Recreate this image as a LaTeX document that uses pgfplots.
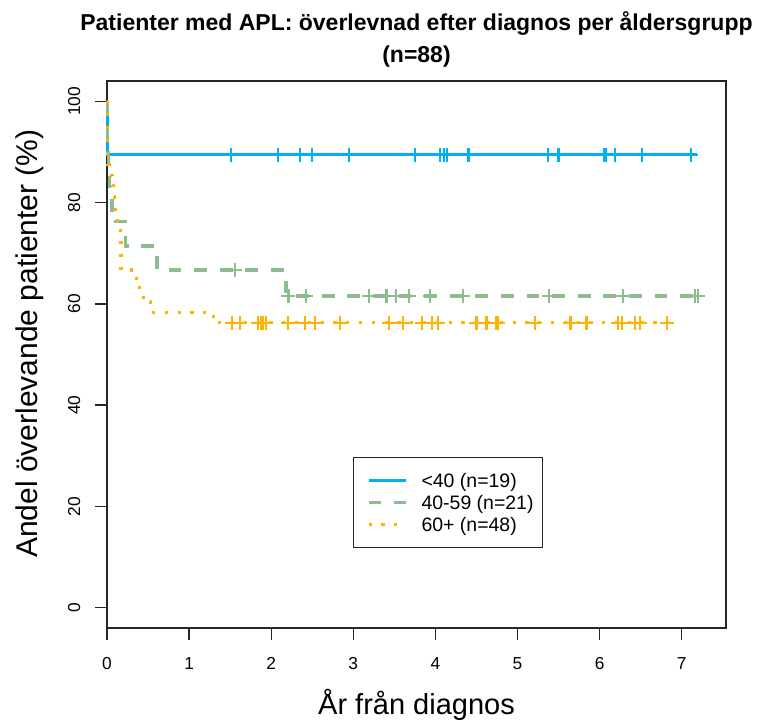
\documentclass[border=0pt]{standalone}
\usepackage{fontspec}
\setmainfont{Liberation Sans}
\usepackage{pgfplots}
\pgfplotsset{compat=1.18}
\definecolor{cblue}{HTML}{00B0F0}
\definecolor{cgreen}{HTML}{8FBC8F}
\definecolor{corange}{HTML}{FFB300}
\begin{document}
\begin{tikzpicture}
\begin{axis}[
  scale only axis, width=464.25pt, height=410.25pt,
  xmin=0, xmax=7.54, ymin=-4, ymax=104,
  clip=false,
  axis line style={black!85, line width=1pt},
  xtick={0,1,...,7}, ytick={0,20,...,100},
  xtick pos=bottom, ytick pos=left,
  tick align=outside, major tick length=9pt,
  tick style={black!85, line width=1pt},
  /pgf/number format/assume math mode=true,
  ticklabel style={font=\fontsize{13pt}{15pt}\selectfont, text=black},
  yticklabel style={rotate=90, anchor=south},
  xticklabel style={anchor=north},
  xticklabel shift=9.75pt, yticklabel shift=7.5pt,
  xlabel={År från diagnos},
  xlabel style={at={(axis description cs:0.5,-0.1408)}, anchor=center, font=\fontsize{21.75pt}{26pt}\selectfont},
  ylabel={Andel överlevande patienter (\%)},
  ylabel style={at={(axis description cs:-0.1244,0.52)}, anchor=center, font=\fontsize{22.5pt}{26pt}\selectfont},
  title={Patienter med APL: överlevnad efter diagnos per åldersgrupp\\(n=88)},
  title style={at={(axis description cs:0.5,1.0612)}, anchor=center, align=center, font=\bfseries\fontsize{17.25pt}{24pt}\selectfont},
  legend style={
    at={(axis description cs:0.3969,0.3132)}, anchor=north west,
    draw=black!85, line width=0.8pt, fill=white,
    font=\fontsize{14.6pt}{16.5pt}\selectfont,
    inner xsep=6.5pt, inner ysep=9pt,
    row sep=0pt,
    nodes={inner sep=0pt, text height=13.5pt, text depth=3pt},
  },
  legend cell align=left,
  legend image code/.code={\path[draw=none,fill=none] (0pt,0pt) -- (44.75pt,0pt); \draw[#1] (5pt,0pt) -- (32.75pt,0pt);},
]
% <40 (n=19)
\addplot[const plot, cblue, line width=2.4pt] coordinates {
(0,100) (0.005,89.47) (7.19,89.47)};
\addlegendentry{<40 (n=19)}
% 40-59 (n=21)
\addplot[const plot, cgreen, line width=2.4pt, dash pattern=on 9.6pt off 9.6pt] coordinates {
(0,100) (0.01,90.48) (0.02,85.71) (0.03,80.95) (0.06,76.19) (0.23,71.43) (0.61,66.67) (2.18,61.54) (7.27,61.54)};
\addlegendentry{40-59 (n=21)}
% 60+ (n=48)
\addplot[const plot, corange, line width=2.4pt, dash pattern=on 2.4pt off 7.2pt] coordinates {
(0,100) (0.01,87.5) (0.035,85.42) (0.07,83.33) (0.08,81.25) (0.095,79.17) (0.10,77.08) (0.13,75.0) (0.165,72.92) (0.17,66.67) (0.36,64.58) (0.40,62.5) (0.44,60.42) (0.53,58.33) (1.30,56.25) (6.89,56.25)};
\addlegendentry{60+ (n=48)}
% censor marks
\addplot[forget plot, only marks, mark=+, mark size=5.25pt, cblue, mark options={solid, line width=1.6pt}] coordinates {
(1.506,89.47) (2.082,89.47) (2.350,89.47) (2.499,89.47) (2.946,89.47) (3.753,89.47) (4.054,89.47) (4.106,89.47) (4.143,89.47) (4.403,89.47) (5.369,89.47) (5.499,89.47) (6.054,89.47) (6.083,89.47) (6.188,89.47) (6.517,89.47) (7.113,89.47)};
\addplot[forget plot, only marks, mark=+, mark size=5.25pt, cgreen, mark options={solid, line width=1.6pt}] coordinates {
(1.558,66.67) (2.21,61.54) (2.423,61.54) (3.193,61.54) (3.405,61.54) (3.518,61.54) (3.680,61.54) (3.932,61.54) (4.338,61.54) (5.385,61.54) (6.286,61.54) (7.159,61.54) (7.199,61.54)};
\addplot[forget plot, only marks, mark=+, mark size=5.25pt, corange, mark options={solid, line width=1.6pt}] coordinates {
(1.518,56.25) (1.619,56.25) (1.842,56.25) (1.871,56.25) (1.903,56.25) (1.932,56.25) (2.207,56.25) (2.411,56.25) (2.532,56.25) (2.837,56.25) (3.433,56.25) (3.610,56.25) (3.835,56.25) (3.957,56.25) (4.030,56.25) (4.500,56.25) (4.622,56.25) (4.741,56.25) (4.763,56.25) (5.211,56.25) (5.637,56.25) (5.649,56.25) (5.840,56.25) (6.225,56.25) (6.276,56.25) (6.428,56.25) (6.489,56.25) (6.824,56.25)};
\end{axis}
\pgfresetboundingbox
\path (-80.25pt,-72.75pt) rectangle (489.75pt,471pt);
\end{tikzpicture}
\end{document}
